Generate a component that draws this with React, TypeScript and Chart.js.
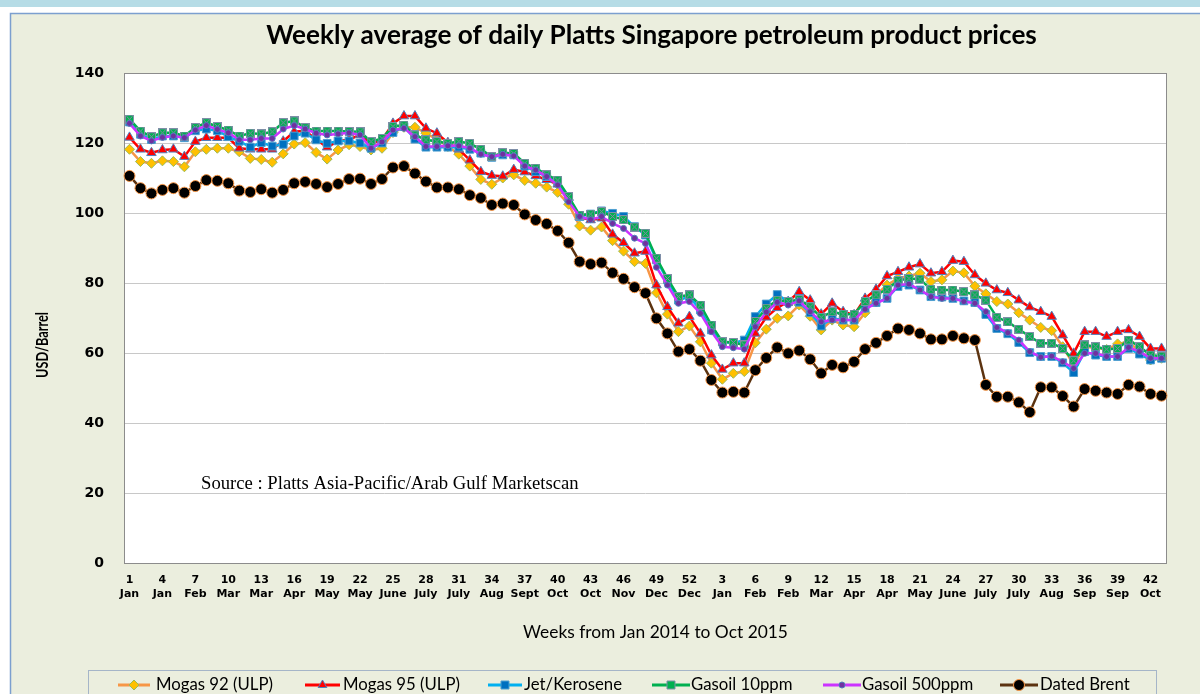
import React, { useEffect, useRef } from "react";
import { Chart, registerables } from "chart.js";

Chart.register(...registerables);

const weekLabels = [
  "1","2","3","4","5","6","7","8","9","10","11","12","13","14","15","16","17","18","19","20","21","22","23","24","25","26",
  "27","28","29","30","31","32","33","34","35","36","37","38","39","40","41","42","43","44","45","46","47","48","49","50","51","52",
  "1","2","3","4","5","6","7","8","9","10","11","12","13","14","15","16","17","18","19","20","21","22",
  "23","24","25","26","27","28","29","30","31","32","33","34","35","36","37","38","39","40","41","42","43"
];

const tickWeeks = ["1","4","7","10","13","16","19","22","25","28","31","34","37","40","43","46","49","52","3","6","9","12","15","18","21","24","27","30","33","36","39","42"];
const tickMonths = ["Jan","Jan","Feb","Mar","Mar","Apr","May","May","June","July","July","Aug","Sept","Oct","Oct","Nov","Dec","Dec","Jan","Feb","Feb","Mar","Apr","Apr","May","June","July","July","Aug","Sep","Sep","Oct"];

const mogas92 = [
  118.2, 114.7, 114.2, 114.9, 114.7, 113.2, 117.5, 118.2, 118.5, 118.5, 117.5, 115.6, 115.3, 114.5, 116.9, 119.7, 120.1, 117.3, 115.4, 118.0, 119.5, 119.0,
  118.0, 118.5, 123.0, 124.5, 124.5, 122.8, 121.0, 119.0, 116.8, 113.4,
  109.6, 108.2, 110.0, 110.9, 109.3, 108.5, 107.4, 105.9, 102.5, 96.3,
  95.1, 96.0, 92.1, 89.1, 86.1, 85.6, 77.2, 71.1, 66.1, 67.7,
  63.2, 57.1, 52.5, 54.2, 54.7, 62.9, 66.8, 69.9, 70.6, 73.7,
  70.5, 66.6, 69.4, 68.0, 67.5, 71.5, 76.6, 79.4, 81.3, 82.0,
  82.8, 80.4, 80.9, 83.4, 82.9, 79.1, 76.9, 74.7, 74.0, 71.5,
  69.4, 67.3, 66.4, 61.8, 56.6, 61.8, 61.5, 61.0, 62.6, 63.2,
  60.4, 58.0, 58.5
];

const mogas95 = [
  121.6, 118.2, 117.2, 118.0, 118.2, 116.1, 120.4, 121.5, 121.5, 121.5, 118.5, 118.2, 118.2, 118.2, 120.5, 123.2, 123.5, 121.0, 118.8, 120.5, 121.0, 122.3,
  119.9, 120.9, 125.6, 127.7, 127.7, 124.2, 122.8, 120.1, 118.2, 115.1,
  111.8, 110.7, 110.5, 112.4, 111.7, 110.6, 109.5, 108.2, 104.4, 98.8,
  98.0, 98.5, 93.9, 91.5, 88.5, 89.0, 79.4, 73.2, 68.5, 70.4,
  65.6, 59.4, 55.3, 57.1, 57.1, 65.6, 70.2, 72.9, 74.7, 77.5,
  75.1, 71.1, 74.2, 71.8, 70.9, 75.6, 78.2, 82.0, 83.2, 84.5,
  85.4, 82.8, 83.2, 86.4, 86.1, 82.3, 79.9, 78.0, 77.2, 75.1,
  73.1, 71.8, 70.4, 65.1, 59.9, 66.1, 66.1, 64.7, 66.1, 66.6,
  64.7, 61.3, 61.3
];

const jetKerosene = [
  126.0, 122.5, 121.0, 122.0, 122.0, 121.5, 123.5, 124.0, 123.5, 121.8, 120.5, 118.8, 120.1, 119.1, 119.6, 122.0, 122.8, 120.9, 119.9, 120.6, 120.6, 120.0,
  118.5, 120.0, 123.0, 124.7, 121.1, 118.8, 118.8, 118.8, 118.8, 118.2,
  117.1, 115.9, 116.6, 116.6, 113.4, 111.8, 110.4, 109.0, 104.2, 99.0,
  99.7, 100.6, 99.9, 99.0, 96.1, 93.7, 86.6, 80.9, 75.1, 76.1,
  72.3, 66.6, 63.2, 62.8, 63.7, 70.4, 74.0, 76.7, 74.7, 74.5,
  71.5, 67.7, 69.9, 69.4, 69.4, 72.8, 74.4, 75.6, 79.0, 79.4,
  78.0, 76.1, 76.0, 75.6, 74.9, 74.4, 71.0, 67.0, 65.5, 63.0,
  60.1, 59.0, 59.0, 57.2, 54.4, 60.4, 59.4, 59.0, 59.0, 61.3,
  59.7, 58.0, 58.5
];

const gasoil10 = [
  126.8, 123.4, 121.8, 122.9, 122.9, 122.0, 124.4, 125.8, 124.7, 123.7, 122.0, 122.8, 122.6, 123.2, 125.8, 126.3, 124.4, 123.4, 123.4, 123.4, 123.3, 123.2,
  120.4, 121.3, 124.7, 125.1, 122.3, 120.9, 120.4, 119.9, 120.4, 119.9,
  118.2, 116.1, 117.2, 117.0, 114.2, 112.8, 110.9, 109.4, 104.7, 99.4,
  99.7, 100.4, 99.0, 98.1, 96.0, 94.2, 87.1, 81.3, 76.1, 76.6,
  73.7, 68.0, 63.2, 63.0, 62.3, 69.0, 72.8, 75.1, 74.7, 75.3,
  73.2, 70.2, 71.8, 71.1, 71.1, 74.7, 76.6, 78.2, 80.7, 81.3,
  81.1, 78.2, 78.0, 78.0, 77.5, 76.6, 75.1, 70.2, 68.9, 66.8,
  64.7, 62.8, 62.8, 61.3, 57.8, 62.3, 61.8, 61.1, 61.3, 63.7,
  61.8, 59.4, 59.1
];

const gasoil500 = [
  125.6, 122.0, 120.6, 121.6, 122.0, 121.5, 123.7, 125.0, 123.9, 122.9, 120.9, 120.9, 121.3, 121.3, 124.0, 125.0, 124.0, 122.8, 122.3, 122.6, 122.9, 122.3,
  118.5, 120.3, 123.7, 124.2, 121.8, 119.0, 119.0, 119.2, 119.2, 118.5,
  116.8, 116.1, 116.8, 116.3, 113.4, 112.3, 110.4, 108.0, 103.2, 99.0,
  98.1, 99.0, 97.0, 95.6, 92.8, 91.3, 84.5, 79.4, 74.2, 74.7,
  71.3, 66.1, 61.8, 61.5, 61.1, 67.5, 71.7, 74.5, 73.7, 74.9,
  71.8, 68.9, 69.4, 69.4, 69.4, 72.5, 74.2, 75.6, 79.4, 79.7,
  78.0, 76.1, 75.6, 75.6, 74.7, 74.2, 71.8, 67.3, 65.8, 63.7,
  60.4, 58.8, 59.1, 57.5, 55.6, 59.9, 59.9, 59.0, 59.0, 61.6,
  60.4, 58.5, 58.5
];

const datedBrent = [
  110.6, 107.1, 105.6, 106.6, 107.1, 105.8, 107.7, 109.4, 109.2, 108.5, 106.4, 106.0, 106.8, 105.8, 106.6, 108.5, 108.9, 108.3, 107.4, 108.3, 109.7, 109.8,
  108.3, 109.7, 113.0, 113.4, 111.3, 109.0, 107.3, 107.3, 106.8, 105.1,
  104.3, 102.3, 102.7, 102.3, 99.6, 98.0, 96.9, 94.9, 91.5, 86.1,
  85.4, 85.8, 82.9, 81.2, 78.8, 77.1, 69.9, 65.6, 60.4, 61.1,
  57.8, 52.3, 48.7, 48.9, 48.7, 55.1, 58.6, 61.6, 59.9, 60.7,
  58.2, 54.2, 56.6, 55.9, 57.5, 61.1, 62.9, 64.9, 67.0, 66.6,
  65.6, 63.9, 63.9, 64.9, 64.2, 63.7, 50.9, 47.5, 47.5, 45.9,
  43.1, 50.2, 50.2, 47.7, 44.7, 49.7, 49.2, 48.7, 48.3, 50.9,
  50.4, 48.3, 47.8
];

const seriesNames = ["Mogas 92 (ULP)", "Mogas 95 (ULP)", "Jet/Kerosene", "Gasoil 10ppm", "Gasoil 500ppm", "Dated Brent"];

function makeGreenMarker(): HTMLCanvasElement {
  const c = document.createElement("canvas");
  c.width = 9; c.height = 9;
  const g = c.getContext("2d")!;
  g.fillStyle = "#00B050";
  g.fillRect(0, 0, 9, 9);
  g.strokeStyle = "#7F8FA8";
  g.lineWidth = 1;
  g.strokeRect(0.5, 0.5, 8, 8);
  g.beginPath();
  g.moveTo(1.5, 1.5); g.lineTo(7.5, 7.5);
  g.moveTo(7.5, 1.5); g.lineTo(1.5, 7.5);
  g.strokeStyle = "#8A86A8";
  g.stroke();
  return c;
}

type MarkerKind = "diamond" | "triangle" | "square" | "green" | "dot" | "bigdot";

function drawMarker(ctx: CanvasRenderingContext2D, kind: MarkerKind, x: number, y: number, fill: string, stroke: string) {
  ctx.save();
  ctx.fillStyle = fill;
  ctx.strokeStyle = stroke;
  ctx.lineWidth = 1;
  ctx.beginPath();
  if (kind === "diamond") {
    const r = 5;
    ctx.moveTo(x, y - r); ctx.lineTo(x + r, y); ctx.lineTo(x, y + r); ctx.lineTo(x - r, y); ctx.closePath();
  } else if (kind === "triangle") {
    const r = 5;
    ctx.moveTo(x, y - r); ctx.lineTo(x + r * 0.87, y + r * 0.5); ctx.lineTo(x - r * 0.87, y + r * 0.5); ctx.closePath();
  } else if (kind === "square" || kind === "green") {
    ctx.rect(x - 4, y - 4, 8, 8);
  } else if (kind === "dot") {
    ctx.arc(x, y, 3, 0, Math.PI * 2);
  } else {
    ctx.arc(x, y, 5.5, 0, Math.PI * 2);
  }
  ctx.fill();
  ctx.stroke();
  ctx.restore();
}

function fitFont(ctx: CanvasRenderingContext2D, text: string, weight: string, family: string, target: number) {
  ctx.font = `${weight} 100px ${family}`;
  const w = ctx.measureText(text).width;
  const size = (100 * target) / w;
  ctx.font = `${weight} ${size}px ${family}`;
  return size;
}

export default function App() {
  const ref = useRef<HTMLCanvasElement>(null);

  useEffect(() => {
    const canvas = ref.current;
    if (!canvas) return;
    const greenMarker = makeGreenMarker();

    const lineColors = ["#F79646", "#FF0000", "#00B0F0", "#00B050", "#CC33FF", "#5C3310"];
    const markerFills = ["#FFC000", "#FF0000", "#0070C0", "#00B050", "#7030A0", "#000000"];
    const markerBorders = ["#9BBB59", "#4F81BD", "#4F9FD0", "#7F8FA8", "#4F81BD", "#F79646"];
    const markerKinds: MarkerKind[] = ["diamond", "triangle", "square", "green", "dot", "bigdot"];

    const decor = {
      id: "decor",
      beforeDraw(chart: any) {
        const { ctx, chartArea: a } = chart;
        ctx.save();
        ctx.fillStyle = "#FFFFFF";
        ctx.fillRect(0, 0, 1200, 694);
        ctx.fillStyle = "#B6DCE6";
        ctx.fillRect(0, 0, 1200, 7);
        ctx.fillStyle = "#EBEEDE";
        ctx.fillRect(10, 13, 1190, 681);
        ctx.strokeStyle = "#7C9FCF";
        ctx.lineWidth = 1.5;
        ctx.beginPath();
        ctx.moveTo(10.5, 694);
        ctx.lineTo(10.5, 13.5);
        ctx.lineTo(1200, 13.5);
        ctx.stroke();
        ctx.fillStyle = "#FFFFFF";
        ctx.fillRect(a.left, a.top, a.right - a.left, a.bottom - a.top);
        ctx.restore();
      },
      beforeDatasetsDraw(chart: any) {
        const { ctx, chartArea: a } = chart;
        ctx.save();
        ctx.strokeStyle = "#8C8C8C";
        ctx.lineWidth = 1;
        ctx.strokeRect(Math.round(a.left) + 0.5, Math.round(a.top) + 0.5, Math.round(a.right - a.left) - 1, Math.round(a.bottom - a.top));
        ctx.restore();
      },
      afterDraw(chart: any) {
        const { ctx } = chart;
        ctx.save();
        ctx.fillStyle = "#000000";
        // title
        const title = "Weekly average of daily Platts Singapore petroleum product prices";
        fitFont(ctx, title, "bold", "Lato", 771);
        ctx.textAlign = "center";
        ctx.textBaseline = "alphabetic";
        ctx.fillText(title, 651.5, 44);
        // x axis title
        const xt = "Weeks from Jan 2014 to Oct 2015";
        fitFont(ctx, xt, "normal", "Lato", 265);
        ctx.fillText(xt, 655.5, 638);
        // y axis title (condensed bold)
        const yt = "USD/Barrel";
        ctx.font = "bold 17px Lato";
        const ytw = ctx.measureText(yt).width;
        ctx.save();
        ctx.translate(43, 345);
        ctx.rotate(-Math.PI / 2);
        ctx.scale(66 / ytw, 1);
        ctx.textAlign = "center";
        ctx.textBaseline = "middle";
        ctx.fillText(yt, 0, 0);
        ctx.restore();
        // source
        const src = "Source : Platts Asia-Pacific/Arab Gulf Marketscan";
        fitFont(ctx, src, "normal", "'Liberation Serif'", 378);
        ctx.textAlign = "left";
        ctx.textBaseline = "alphabetic";
        ctx.fillText(src, 201, 489);
        // legend
        ctx.strokeStyle = "#A5B5C8";
        ctx.lineWidth = 1;
        ctx.strokeRect(88.5, 670.5, 1068, 40);
        const lineStarts = [118, 305, 488, 652, 823, 1000];
        const lineEnds = [150, 340, 522, 690, 861, 1038];
        const textStarts = [156, 343, 524, 691, 862, 1040];
        const ly = 685;
        const lsize = fitFont(ctx, seriesNames[0], "normal", "Lato", 117);
        for (let i = 0; i < seriesNames.length; i++) {
          ctx.strokeStyle = lineColors[i];
          ctx.lineWidth = 3;
          ctx.beginPath();
          ctx.moveTo(lineStarts[i], ly);
          ctx.lineTo(lineEnds[i], ly);
          ctx.stroke();
          drawMarker(ctx, markerKinds[i], (lineStarts[i] + lineEnds[i]) / 2, ly, markerFills[i], markerBorders[i]);
          ctx.font = `normal ${lsize}px Lato`;
          ctx.fillStyle = "#000000";
          ctx.textAlign = "left";
          ctx.textBaseline = "middle";
          ctx.fillText(seriesNames[i], textStarts[i], ly);
        }
        ctx.restore();
      },
    };

    const seriesData = [mogas92, mogas95, jetKerosene, gasoil10, gasoil500, datedBrent];
    const pointStyles: any[] = ["rectRot", "triangle", "rect", greenMarker, "circle", "circle"];
    const pointRadii = [5, 5.5, 5.5, 4.5, 3, 5.5];

    const datasets = seriesNames.map((name, i) => ({
      label: name,
      data: seriesData[i],
      borderColor: lineColors[i],
      backgroundColor: markerFills[i],
      borderWidth: 2.5,
      pointStyle: pointStyles[i],
      pointRadius: pointRadii[i],
      pointBackgroundColor: markerFills[i],
      pointBorderColor: markerBorders[i],
      pointBorderWidth: 1,
      tension: 0,
      fill: false,
      order: 6 - i,
    }));

    const chart = new Chart(canvas, {
      type: "line",
      data: { labels: weekLabels, datasets },
      options: {
        responsive: false,
        animation: false,
        devicePixelRatio: 1,
        layout: { padding: { top: 73, right: 33, left: 0, bottom: 0 } },
        plugins: {
          legend: { display: false },
          title: { display: false },
          tooltip: { enabled: false },
        },
        scales: {
          x: {
            type: "category",
            offset: true,
            grid: { display: false },
            border: { display: false },
            ticks: {
              autoSkip: false,
              maxRotation: 0,
              minRotation: 0,
              padding: 2,
              color: "#000000",
              font: { family: "'DejaVu Sans'", weight: "bold", size: 11, lineHeight: 1.3 },
              callback: (_v: any, i: number) => (i % 3 === 0 ? [tickWeeks[i / 3], tickMonths[i / 3]] : ""),
            },
            afterFit: (s: any) => {
              s.height = 131;
            },
          },
          y: {
            min: 0,
            max: 140,
            ticks: {
              stepSize: 20,
              padding: 20,
              color: "#000000",
              font: { family: "'DejaVu Sans'", weight: "bold", size: 14 },
            },
            grid: { color: "#C8C8C8", drawTicks: false, lineWidth: 1 },
            border: { display: false },
            afterFit: (s: any) => {
              s.width = 124;
            },
          },
        },
      },
      plugins: [decor],
    } as any);

    return () => chart.destroy();
  }, []);

  return (
    <div style={{ position: "fixed", left: 0, top: 0, width: 1200, height: 694 }}>
      <canvas ref={ref} width={1200} height={694} style={{ display: "block", width: 1200, height: 694 }} />
    </div>
  );
}
